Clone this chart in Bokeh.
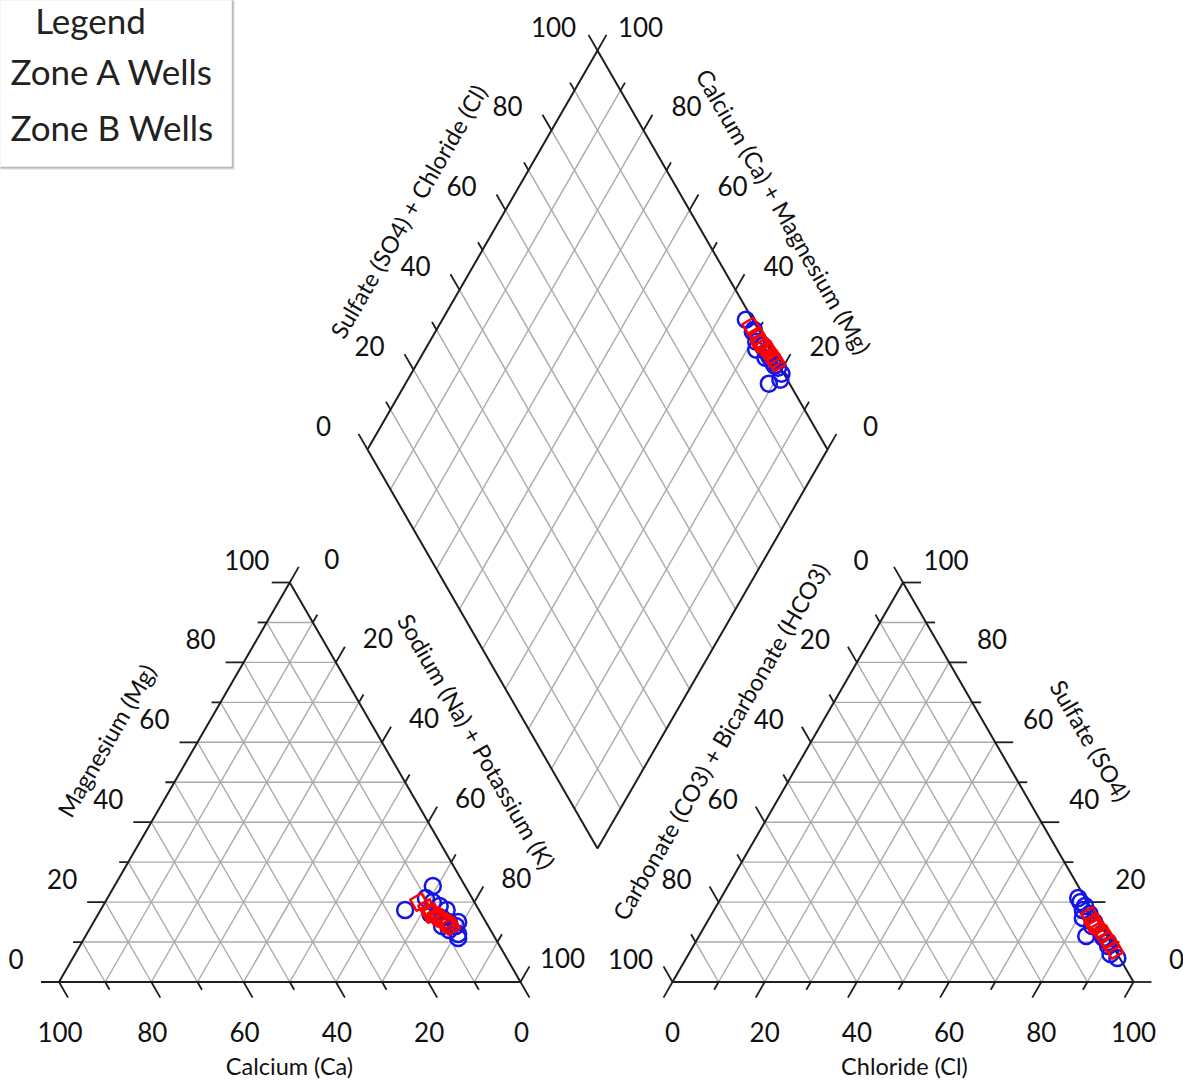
import numpy as np
from bokeh.plotting import figure
from bokeh.models import Range1d
from bokeh.embed import file_html
from bokeh.resources import INLINE
from bokeh.core.properties import value

# ---------------- data (milliequivalent percentages) ----------------
zoneA_Ca   = [16, 7, 10, 9, 8, 11, 7, 9, 7, 8, 6, 9, 8, 7.5, 10]
zoneA_Mg   = [18, 24, 21, 20, 19, 17, 18, 16, 14, 15, 15, 13, 11, 12, 14]
zoneA_NaK  = [66, 69, 69, 71, 73, 72, 75, 75, 79, 77, 79, 78, 81, 80.5, 76]
zoneA_HCO3 = [1.5, 1.5, 1, 2, 1, 3, 1, 2, 4.5, 1, 0.5, 1, 1.5, 0.5, 1]
zoneA_SO4  = [21, 20, 19, 18, 17, 16, 15, 14, 11.5, 12, 10, 9, 7, 6, 11]
zoneA_Cl   = [77.5, 78.5, 80, 80, 82, 81, 84, 84, 84, 87, 89.5, 90, 91.5, 93.5, 88]

zoneB_Ca   = [12, 11, 10.5, 10, 9.5, 9, 8.5, 8, 11]
zoneB_Mg   = [20, 18.5, 17.5, 16.5, 16, 15, 14.5, 14, 17]
zoneB_NaK  = [68, 70.5, 72, 73.5, 74.5, 76, 77, 78, 72]
zoneB_HCO3 = [1.2, 1, 1, 0.8, 0.5, 0.5, 0.3, 0.2, 1.5]
zoneB_SO4  = [16.5, 15, 14, 13, 12, 10.5, 9.5, 8, 14.5]
zoneB_Cl   = [82.3, 84, 85, 86.2, 87.5, 89, 90.2, 91.8, 84]

tick_values = [0, 10, 20, 30, 40, 50, 60, 70, 80, 90, 100]
label_values = [0, 20, 40, 60, 80, 100]
legend_title = "Legend"
legend_labels = ["Zone A Wells", "Zone B Wells"]

# ---------------- geometry (page pixels, y downward) ----------------
W, H = 1183, 1083
FONT = "Lato"
EDGE = "#1e1e1e"
GRID = "#aaaaaa"

L_Ca, L_Na, L_Mg = np.array([58.5, 981.5]), np.array([520.0, 981.5]), np.array([289.25, 582.0])
R_HC, R_Cl, R_SO4 = np.array([672.0, 981.5]), np.array([1133.0, 981.5]), np.array([902.5, 582.0])
D_bot, D_left, D_right, D_top = (np.array([597.0, 848.0]), np.array([367.0, 449.0]),
                                 np.array([827.0, 449.0]), np.array([597.0, 50.0]))

def tern(A, B, C, a, b, c):
    a, b, c = np.asarray(a, float), np.asarray(b, float), np.asarray(c, float)
    t = a + b + c
    a, b, c = a / t, b / t, c / t
    return a * A[0] + b * B[0] + c * C[0], a * A[1] + b * B[1] + c * C[1]

def diam(cm, sc):
    cm, sc = np.asarray(cm, float), np.asarray(sc, float)
    x = D_bot[0] + cm * (D_left[0] - D_bot[0]) + sc * (D_right[0] - D_bot[0])
    y = D_bot[1] + cm * (D_left[1] - D_bot[1]) + sc * (D_right[1] - D_bot[1])
    return x, y

p = figure(width=W, height=H, x_range=Range1d(0, W), y_range=Range1d(0, H),
           output_backend="svg", toolbar_location=None, min_border=0)
p.axis.visible = False
p.grid.visible = False
p.outline_line_color = None
p.background_fill_color = "white"

def Y(y):
    return H - np.asarray(y, float)

def seg(x0, y0, x1, y1, color, width):
    p.segment(x0=list(x0), y0=list(Y(y0)), x1=list(x1), y1=list(Y(y1)),
              line_color=color, line_width=width)

def grid_triangle(A, B, C):
    xs0, ys0, xs1, ys1 = [], [], [], []
    for k in range(1, 10):
        f = k / 10
        for (P, Q, R) in [(A, B, C), (B, C, A), (C, A, B)]:
            p0 = f * P + (1 - f) * Q
            p1 = f * P + (1 - f) * R
            xs0.append(p0[0]); ys0.append(p0[1]); xs1.append(p1[0]); ys1.append(p1[1])
    seg(xs0, ys0, xs1, ys1, GRID, 1.4)

def grid_diamond():
    xs0, ys0, xs1, ys1 = [], [], [], []
    for k in range(1, 10):
        f = k / 10
        a = D_bot + f * (D_left - D_bot); b = D_right + f * (D_top - D_right)
        xs0.append(a[0]); ys0.append(a[1]); xs1.append(b[0]); ys1.append(b[1])
        a = D_bot + f * (D_right - D_bot); b = D_left + f * (D_top - D_left)
        xs0.append(a[0]); ys0.append(a[1]); xs1.append(b[0]); ys1.append(b[1])
    seg(xs0, ys0, xs1, ys1, GRID, 1.4)

grid_triangle(L_Ca, L_Na, L_Mg)
grid_triangle(R_HC, R_Cl, R_SO4)
grid_diamond()

def outline(pts):
    xs = [q[0] for q in pts] + [pts[0][0]]
    ys = [q[1] for q in pts] + [pts[0][1]]
    p.line(xs, list(Y(ys)), line_color=EDGE, line_width=2)

outline([L_Ca, L_Na, L_Mg])
outline([R_HC, R_Cl, R_SO4])
outline([D_bot, D_right, D_top, D_left])

# ticks + labels
tick_x0, tick_y0, tick_x1, tick_y1 = [], [], [], []
lab_x, lab_y, lab_t = [], [], []

def axis_ticks(start, end, direction, offset):
    d = np.array(direction, float); d = d / np.hypot(*d)
    for v in tick_values:
        f = v / 100
        pt = start + f * (end - start)
        ln = 18 if v % 20 == 0 else 9
        tick_x0.append(pt[0]); tick_y0.append(pt[1])
        tick_x1.append(pt[0] + d[0] * ln); tick_y1.append(pt[1] + d[1] * ln)
        if v in label_values:
            lab_x.append(pt[0] + offset[0]); lab_y.append(pt[1] + offset[1]); lab_t.append(str(v))

UR, UL, DR, DL = (0.5, -0.866), (-0.5, -0.866), (0.5, 0.866), (-0.5, 0.866)
# left triangle
axis_ticks(L_Na, L_Ca, DR, (1, 50))          # Calcium
axis_ticks(L_Ca, L_Mg, (-1, 0), (-43, -23))  # Magnesium
axis_ticks(L_Mg, L_Na, UR, (42, -24))        # Sodium + Potassium
# right triangle
axis_ticks(R_HC, R_Cl, DL, (0, 50))          # Chloride
axis_ticks(R_SO4, R_HC, UL, (-42, -23))      # Carbonate + Bicarbonate
axis_ticks(R_Cl, R_SO4, (1, 0), (43, -23))   # Sulfate
# diamond
axis_ticks(D_left, D_top, UL, (-44, -24))    # SO4 + Cl
axis_ticks(D_right, D_top, UR, (43, -24))    # Ca + Mg

seg(tick_x0, tick_y0, tick_x1, tick_y1, EDGE, 1.8)
p.text(x=lab_x, y=list(Y(lab_y)), text=lab_t, text_font=value(FONT), text_font_size="26px",
       text_align="center", text_baseline="middle", text_color="#111111")

# axis titles
titles = [
    ("Calcium (Ca)", 289, 1065, 0, "23.5px"),
    ("Chloride (Cl)", 904, 1065, 0, "23.5px"),
    ("Magnesium (Mg)", 106, 740, np.pi / 3, "23.5px"),
    ("Sodium (Na) + Potassium (K)", 476, 741, -np.pi / 3, "23.5px"),
    ("Carbonate (CO3) + Bicarbonate (HCO3)", 720, 741, np.pi / 3, "23.5px"),
    ("Sulfate (SO4)", 1090, 740, -np.pi / 3, "23.5px"),
    ("Sulfate (SO4) + Chloride (Cl)", 408, 211, np.pi / 3, "23.5px"),
    ("Calcium (Ca) + Magnesium (Mg)", 783, 211, -np.pi / 3, "23.5px"),
]
for t, x, y, a, fs in titles:
    p.text(x=[x], y=[H - y], text=[t], angle=a, text_font=value(FONT), text_font_size=fs,
           text_align="center", text_baseline="middle", text_color="#111111")

# ---------------- data points ----------------
def plot_zone(Ca, Mg, Na, HC, SO4, Cl, **kw):
    x1, y1 = tern(L_Ca, L_Mg, L_Na, Ca, Mg, Na)
    x2, y2 = tern(R_HC, R_SO4, R_Cl, HC, SO4, Cl)
    cat_t = np.array(Ca, float) + np.array(Mg, float) + np.array(Na, float)
    an_t = np.array(HC, float) + np.array(SO4, float) + np.array(Cl, float)
    cm = (np.array(Ca, float) + np.array(Mg, float)) / cat_t
    sc = (np.array(SO4, float) + np.array(Cl, float)) / an_t
    x3, y3 = diam(cm, sc)
    xs = np.concatenate([x1, x2, x3]); ys = np.concatenate([y1, y2, y3])
    p.scatter(list(xs), list(Y(ys)), **kw)

plot_zone(zoneA_Ca, zoneA_Mg, zoneA_NaK, zoneA_HCO3, zoneA_SO4, zoneA_Cl,
          marker="circle", size=16, fill_color=None, line_color="#1414e6", line_width=2.5)
plot_zone(zoneB_Ca, zoneB_Mg, zoneB_NaK, zoneB_HCO3, zoneB_SO4, zoneB_Cl,
          marker="square", size=13, angle=np.pi / 6, fill_color=None, line_color="#ff0000", line_width=2.5)

# ---------------- legend box ----------------
p.quad(left=[-18], right=[234], top=[H + 20], bottom=[H - 169], fill_color="#d8d8d8", line_color=None)
p.quad(left=[-20], right=[232], top=[H + 20], bottom=[H - 167], fill_color="white",
       line_color="#b8b8b8", line_width=1.5)
p.text(x=[90], y=[H - 19], text=[legend_title], text_font=value(FONT), text_font_size="35px",
       text_align="center", text_baseline="middle", text_color="#222222")
p.text(x=[10, 10], y=[H - 70, H - 126], text=legend_labels, text_font=value(FONT),
       text_font_size="35px", text_align="left", text_baseline="middle", text_color="#222222")

open("out.html", "w").write(file_html(p, INLINE))
